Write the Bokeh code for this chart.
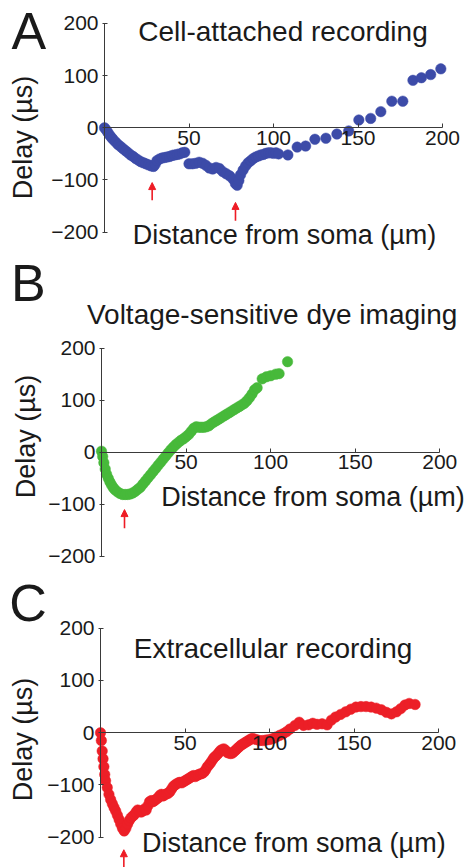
import math
from bokeh.plotting import figure
from bokeh.layouts import column
from bokeh.models import Label, Arrow, NormalHead, FixedTicker
from bokeh.embed import file_html
from bokeh.resources import INLINE

FONT = "Liberation Sans"
TEXT_COLOR = "#1a1a1a"
AXIS_COLOR = "#3a3a3a"
ARROW_RED = "#ee1c25"

# ---------------- data ----------------
# Panel A: cell-attached recording (distance µm, delay µs)
a_x = [0, 1, 2, 3, 4, 5, 6.5, 8, 9.5, 11, 12.5, 14, 15.5, 17, 18.5, 20, 21.5, 23, 24.5, 26,
       27.5, 29, 30, 31, 32.5, 34, 35.5, 37, 38.5, 40, 41.5, 43, 44.5, 46, 47.5,
       50, 52, 54, 56, 58, 60, 62, 64, 66, 68, 70, 72, 74, 76, 77.5, 78.5, 79.5, 80.5,
       82, 83.5, 85, 86.5, 88, 89.5, 91, 92.5, 94, 95.5, 97, 98.5, 100, 101.5, 103, 108.5,
       114, 119, 124.5, 131, 137.5, 144.5, 150.5, 157.5, 163.5, 170, 176.5, 182.5, 187.5,
       193, 199]
a_y = [0, -4, -9, -14, -18, -22, -27, -32, -36, -40, -44, -48, -52, -55, -59, -62, -65, -67, -69, -71,
       -73, -74, -70, -63, -60, -58, -57, -56, -55, -53, -52, -51, -50, -48, -47,
       -69, -69, -68, -66, -68, -72, -77, -79, -76, -78, -84, -88, -92, -98, -107, -110, -101, -90,
       -81, -73, -67, -63, -59, -56, -54, -52, -51, -49, -48, -48, -49, -48, -50, -52,
       -37, -35, -22, -20, -12, -6, 15, 18, 31, 51, 51, 91, 96,
       102, 113]

# Panel B: voltage-sensitive dye imaging
b_x = [0, 0.7, 1.4, 2.2, 3, 4, 5, 6, 7, 8, 9.5, 11, 12.5, 14, 15.5, 17, 18.5, 20, 21.5, 23,
       24.5, 26, 27.5, 29, 30.5, 32, 33.5, 35, 36.5, 38, 39.5, 41, 42.5, 44, 45.5, 47, 48.5,
       50, 51.5, 53, 54.5, 56, 57.5, 59, 60.5, 62, 63.5, 65, 66.5, 68, 69.5, 71, 72.5, 74,
       75.5, 77, 78.5, 80, 81.5, 83, 84.5, 86, 87.5, 89, 90.5, 92, 95, 97.5, 100, 103, 105, 110]
b_y = [2, -8, -20, -32, -42, -50, -57, -63, -68, -72, -76, -79, -81, -81, -81, -80, -78, -75, -71, -67,
       -61, -55, -49, -43, -37, -31, -25, -19, -13, -7, -1, 5, 10, 15, 19, 23, 26,
       30, 34, 40, 46, 49, 48, 48, 48, 49, 51, 55, 58, 61, 64, 67, 70, 73,
       76, 79, 82, 85, 88, 91, 94, 99, 105, 112, 120, 124, 141, 145, 147, 150, 151, 174]

# Panel C: extracellular recording
c_x = [0, 0.5, 1, 1.5, 2, 2.5, 3, 4, 5, 6, 7, 8, 9, 10, 11, 12, 13, 14, 15, 16, 17, 18, 19, 20,
       21, 22, 23, 24, 25, 26, 27, 28, 29, 30, 31, 32, 33, 34, 35, 36, 37, 38, 39, 40, 41, 42,
       43, 44, 45, 46, 47, 48, 49, 50, 51, 52, 53, 54, 55, 56, 57, 58, 59, 60, 61, 62, 63, 64,
       65, 66, 67, 68, 69, 70, 71, 72, 73, 74, 75, 76, 77, 78, 79, 80, 81, 82, 83, 84, 85, 86,
       87, 88, 89, 90, 92, 94, 96, 98, 100, 102, 104, 106, 108, 110, 112, 115, 117.5, 120, 123,
       125.5, 128, 131, 134, 136.5, 139, 142, 145, 148, 151, 154, 157, 160, 163, 166, 169, 172,
       175, 177.5, 180, 182.5, 186]
c_y = [0, -15, -35, -50, -65, -80, -92, -105, -118, -128, -136, -143, -150, -158, -166, -175, -183, -188, -183, -175, -168, -163, -160, -157,
       -152, -148, -150, -152, -150, -146, -148, -140, -132, -130, -132, -130, -127, -125, -120, -118, -121, -119, -117, -116, -113, -108,
       -103, -100, -98, -96, -95, -96, -94, -92, -90, -88, -86, -84, -82, -84, -82, -80, -79, -78, -76, -72, -66, -62,
       -58, -53, -48, -45, -42, -38, -34, -32, -31, -34, -38, -39, -40, -39, -36, -33, -30, -27, -24, -22, -20, -18,
       -16, -14, -12, -11, -13, -15, -15, -14, -13, -11, -8, -5, -2, 2, 7, 14, 20, 14, 15,
       18, 16, 17, 15, 24, 30, 35, 40, 45, 49, 50, 50, 49, 47, 44, 39, 36,
       40, 46, 53, 56, 54]

x_ticks = [50, 100, 150, 200]
y_ticks = [-200, -100, 0, 100, 200]
y_tick_labels = {-200: "\u2212200", -100: "\u2212100", 0: "0", 100: "100", 200: "200"}

a_arrows_x = [28.2, 77.5]
b_arrows_x = [13.6]
c_arrows_x = [13.8]


def make_panel(height, x_range, y_range, xs, ys, color):
    p = figure(width=465, height=height, output_backend="svg", toolbar_location=None,
               x_range=x_range, y_range=y_range,
               min_border_left=0, min_border_right=0, min_border_top=0, min_border_bottom=0)
    p.outline_line_color = None
    p.grid.visible = False
    p.background_fill_color = "white"
    p.border_fill_color = "white"

    xa = p.xaxis[0]
    xa.fixed_location = 0
    xa.bounds = (0, 200)
    xa.ticker = FixedTicker(ticks=x_ticks)
    xa.major_tick_in = 4
    xa.major_tick_out = 0
    xa.minor_tick_in = 0
    xa.minor_tick_out = 0
    xa.axis_line_color = AXIS_COLOR
    xa.major_tick_line_color = AXIS_COLOR
    xa.major_label_text_font = FONT
    xa.major_label_text_font_size = "21px"
    xa.major_label_text_color = TEXT_COLOR
    xa.major_label_standoff = 3

    ya = p.yaxis[0]
    ya.fixed_location = 0
    ya.bounds = (-200, 200)
    ya.ticker = FixedTicker(ticks=y_ticks)
    ya.major_label_overrides = y_tick_labels
    ya.major_tick_in = 3
    ya.major_tick_out = 2
    ya.minor_tick_in = 0
    ya.minor_tick_out = 0
    ya.axis_line_color = AXIS_COLOR
    ya.major_tick_line_color = AXIS_COLOR
    ya.major_label_text_font = FONT
    ya.major_label_text_font_size = "21px"
    ya.major_label_text_color = TEXT_COLOR
    ya.major_label_standoff = 4

    p.scatter(xs, ys, size=10.5, fill_color=color, line_color=color, line_width=0.5)
    return p


def add_text(p, x, y, text, size, angle=0.0):
    p.add_layout(Label(x=x, y=y, text=text, text_font=FONT, text_font_size=size,
                       text_color=TEXT_COLOR, text_align="center", text_baseline="middle",
                       angle=angle))


def add_arrow(p, x, y_tail, y_tip):
    p.add_layout(Arrow(end=NormalHead(size=7, fill_color=ARROW_RED, line_color=ARROW_RED),
                       x_start=x, y_start=y_tail, x_end=x, y_end=y_tip,
                       line_color=ARROW_RED, line_width=1.6))


# Panel A (canvas rows 0-252)
pA = make_panel(252, (-61.54, 213.6), (-239.0, 244.0), a_x, a_y, "#3c4ba8")
add_text(pA, -44.7, 186.5, "A", "52px")
add_text(pA, 105.6, 184.7, "Cell-attached recording", "28px")
add_text(pA, 106.5, -204.5, "Distance from soma (\u00b5m)", "27px")
add_text(pA, -48.5, -18.6, "Delay (\u00b5s)", "27px", angle=math.pi / 2)
add_arrow(pA, a_arrows_x[0], -139, -105)
add_arrow(pA, a_arrows_x[1], -178, -143)

# Panel B (canvas rows 252-572)
pB = make_panel(320, (-59.71, 215.2), (-230.8, 383.6), b_x, b_y, "#47b93a")
add_text(pB, -43.2, 325.0, "B", "52px")
add_text(pB, 100.9, 264.6, "Voltage-sensitive dye imaging", "28px")
add_text(pB, 125.0, -84.9, "Distance from soma (\u00b5m)", "27px")
add_text(pB, -44.9, 30.3, "Delay (\u00b5s)", "27px", angle=math.pi / 2)
add_arrow(pB, b_arrows_x[0], -146, -110)

# Panel C (canvas rows 572-867)
pC = make_panel(295, (-59.12, 215.8), (-258.0, 306.6), c_x, c_y, "#ec1f27")
add_text(pC, -42.9, 249.0, "C", "52px")
add_text(pC, 102.0, 161.0, "Extracellular recording", "28px")
add_text(pC, 114.3, -211.0, "Distance from soma (\u00b5m)", "27px")
add_text(pC, -45.8, -13.0, "Delay (\u00b5s)", "27px", angle=math.pi / 2)
add_arrow(pC, c_arrows_x[0], -268, -224)

layout = column(pA, pB, pC, spacing=0)
open("out.html", "w").write(file_html(layout, INLINE))
